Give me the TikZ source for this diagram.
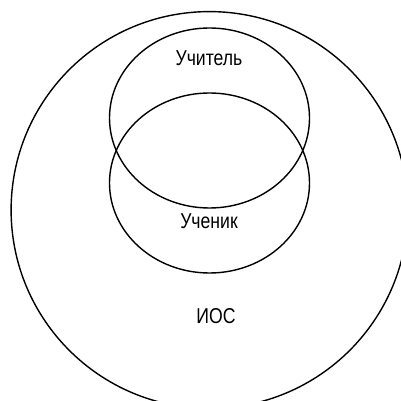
\documentclass[tikz,border=0pt]{standalone}
\usepackage{fontspec}
\setmainfont{Liberation Sans}[FakeStretch=0.82]
\usetikzlibrary{shapes.geometric}
\begin{document}
\begin{tikzpicture}[x=1pt,y=1pt,
  ring/.style={draw=black,line width=1.4pt,inner sep=0pt,outer sep=0pt},
  lbl/.style={font=\fontsize{21.5}{24}\selectfont,inner sep=0pt}]
\useasboundingbox (0,0) rectangle (401,401);
\node[ring,circle,minimum size=396.8pt] (ios) at (209.5,191) {};
\node[ring,ellipse,minimum width=200pt,minimum height=180pt] (teacher) at (209.5,283) {};
\node[ring,ellipse,minimum width=200pt,minimum height=180pt] (pupil) at (209.5,218) {};
\node[lbl] (tlabel) at (209,342.5) {Учитель};
\node[lbl] (plabel) at (209,179.5) {Ученик};
\node[lbl] (ilabel) at (216,85) {ИОС};
\end{tikzpicture}
\end{document}
